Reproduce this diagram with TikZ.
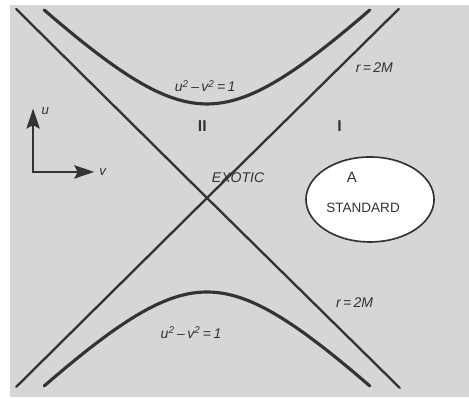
\documentclass[tikz,border=0pt]{standalone}
\usepackage{fontspec}
\setmainfont{Liberation Sans}
\usetikzlibrary{arrows.meta}
\definecolor{paper}{gray}{0.84}
\definecolor{ink}{gray}{0.2}

\begin{document}
\begin{tikzpicture}[scale=2, >={Stealth[length=12pt,width=8pt,inset=2pt]}]
  % Page and scanned paper
  \useasboundingbox (-2.202,-2.138) rectangle (2.787,2.106);
  \fill[paper] (-2.096,-2.117) rectangle (2.787,2.053);

  % Horizon lines r = 2M (crossing at the origin)
  \coordinate (O) at (0,0);
  \coordinate (TL) at (-2.03,2.01);
  \coordinate (TR) at (2.04,2.01);
  \coordinate (BL) at (-2.03,-2.01);
  \coordinate (BR) at (2.05,-2.02);
  \draw[ink, line width=1.4pt, line cap=round] (TL) -- (O) -- (BR);
  \draw[ink, line width=1.4pt, line cap=round] (BL) -- (O) -- (TR);

  % Hyperbolas u^2 - v^2 = 1
  \draw[ink, line width=1.9pt, line cap=round, domain=-1.317:1.317, samples=60, variable=\t]
    plot ({sinh(\t)}, {cosh(\t)});
  \draw[ink, line width=1.9pt, line cap=round, domain=-1.317:1.317, samples=60, variable=\t]
    plot ({sinh(\t)}, {-cosh(\t)});

  % Standard region
  \coordinate (S) at (1.734,-0.016);
  \draw[ink, line width=1pt, fill=white] (S) ellipse (0.681 and 0.452);

  % Axes
  \coordinate (C) at (-1.85,0.277);
  \coordinate (Cu) at (-1.85,0.95);
  \coordinate (Cv) at (-1.20,0.277);
  \draw[<->, ink, line width=1.6pt] (Cu) -- (C) -- (Cv);

  % Labels
  \node[ink, font=\fontsize{8}{9}\selectfont\itshape] (ulab) at (-1.72,0.92) {u};
  \node[ink, font=\fontsize{8}{9}\selectfont\itshape] (vlab) at (-1.11,0.277) {v};
  \node[ink, font=\fontsize{8.5}{10}\selectfont\itshape] (hyptop) at (-0.02,1.19)
    {u\textsuperscript{2}\,--\,v\textsuperscript{2}\,=\,1};
  \node[ink, font=\fontsize{8.5}{10}\selectfont\itshape] (hypbot) at (-0.17,-1.43)
    {u\textsuperscript{2}\,--\,v\textsuperscript{2}\,=\,1};
  \node[ink, font=\fontsize{8.5}{10}\selectfont\itshape] (rtop) at (1.78,1.39) {r\,=\,2M};
  \node[ink, font=\fontsize{8.5}{10}\selectfont\itshape] (rbot) at (1.57,-1.11) {r\,=\,2M};
  \node[ink, font=\fontsize{9.5}{10}\selectfont\rmfamily\bfseries] (two) at (-0.05,0.76) {II};
  \node[ink, font=\fontsize{9.5}{10}\selectfont\rmfamily\bfseries] (one) at (1.41,0.76) {I};
  \node[ink, font=\fontsize{8.5}{10}\selectfont\itshape] (exotic) at (0.33,0.22) {EXOTIC};
  \node[ink, font=\fontsize{9}{10}\selectfont] (a) at (1.54,0.22) {A};
  \node[ink, font=\fontsize{8.2}{10}\selectfont] (standard) at (1.66,-0.10) {STANDARD};
\end{tikzpicture}
\end{document}
